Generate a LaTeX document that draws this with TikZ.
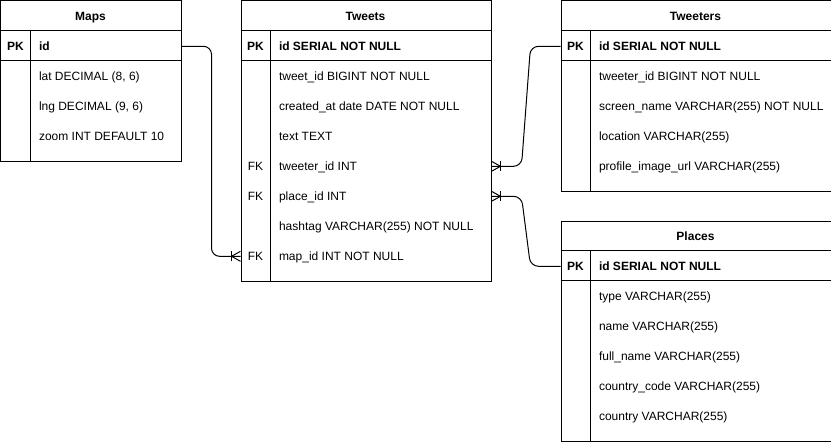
\documentclass[tikz,border=0pt]{standalone}
\usepackage{fontspec}
\setmainfont{Liberation Sans}
\usetikzlibrary{calc, positioning}

\tikzset{
	table/.style={draw, anchor=north west, inner sep=0pt},
	txt/.style={inner sep=0pt, text height=8.6pt, text depth=0pt, yshift=-0.8pt},
	bold/.style={txt, font=\fontsize{12}{14}\selectfont\bfseries},
	field/.style={txt, anchor=west},
	link/.style={rounded corners=8pt},
	crowfoot/.pic={\draw (0,-5) -- (9,0) -- (0,5); \draw (9,-5) -- (9,5);}
}

\begin{document}
\begin{tikzpicture}[x=1pt, y=-1pt, line width=1pt, font=\fontsize{12}{14}\selectfont]
			\useasboundingbox (-0.5,-0.5) rectangle (830.5,441);
			% Maps
			\node[table, minimum width=180, minimum height=160] (maps) at (0,0) {};
			\draw (0,30) -- (180,30);
			\draw (0,60) -- (180,60);
			\draw (30,30) -- (30,160);
			\node[bold] (maps-title) at (90,15) {Maps};
			\node[bold] (maps-pk) at (15,45) {PK};
			\node[bold, anchor=west] (maps-id) at (38,45) {id};
			\foreach \t [count=\i] in {{lat DECIMAL (8, 6)}, {lng DECIMAL (9, 6)}, {zoom INT DEFAULT 10}}
				\node[field] (maps-\i) at (38,{45+30*\i}) {\t};
			% Tweets
			\node[table, minimum width=250, minimum height=280] (tweets) at (240,0) {};
			\draw (240,30) -- (490,30);
			\draw (240,60) -- (490,60);
			\draw (270,30) -- (270,280);
			\node[bold] (tweets-title) at (365,15) {Tweets};
			\node[bold] (tweets-pk) at (255,45) {PK};
			\node[bold, anchor=west] (tweets-id) at (278,45) {id SERIAL NOT NULL};
			\foreach \t [count=\i] in {tweet\_id BIGINT NOT NULL, created\_at date DATE NOT NULL, text TEXT, tweeter\_id INT, place\_id INT, hashtag VARCHAR(255) NOT NULL, map\_id INT NOT NULL}
				\node[field] (tweets-\i) at (278,{45+30*\i}) {\t};
			\foreach \i in {4,5,7}
				\node[txt] (tweets-fk\i) at (255,{45+30*\i}) {FK};
			% Tweeters
			\node[table, minimum width=270, minimum height=190] (tweeters) at (560,0) {};
			\draw (560,30) -- (830,30);
			\draw (560,60) -- (830,60);
			\draw (590,30) -- (590,190);
			\node[bold] (tweeters-title) at (695,15) {Tweeters};
			\node[bold] (tweeters-pk) at (575,45) {PK};
			\node[bold, anchor=west] (tweeters-id) at (598,45) {id SERIAL NOT NULL};
			\foreach \t [count=\i] in {tweeter\_id BIGINT NOT NULL, screen\_name VARCHAR(255) NOT NULL, location VARCHAR(255), profile\_image\_url VARCHAR(255)}
				\node[field] (tweeters-\i) at (598,{45+30*\i}) {\t};
			% Places
			\node[table, minimum width=270, minimum height=220] (places) at (560,220) {};
			\draw (560,250) -- (830,250);
			\draw (560,280) -- (830,280);
			\draw (590,250) -- (590,440);
			\node[bold] (places-title) at (695,235) {Places};
			\node[bold] (places-pk) at (575,265) {PK};
			\node[bold, anchor=west] (places-id) at (598,265) {id SERIAL NOT NULL};
			\foreach \t [count=\i] in {type VARCHAR(255), name VARCHAR(255), full\_name VARCHAR(255), country\_code VARCHAR(255), country VARCHAR(255)}
				\node[field] (places-\i) at (598,{265+30*\i}) {\t};
			% relations
			\draw[link] (maps.east |- maps-id) -- ++(30,0) |- (tweets.west |- tweets-7);
			\path (tweets.west |- tweets-7) pic[rotate=180] {crowfoot};
			\draw[link] (tweets.east |- tweets-4) -- ++(30,0) -- ($(tweeters.west |- tweeters-pk)+(-30,0)$) -- (tweeters.west |- tweeters-pk);
			\path (tweets.east |- tweets-4) pic {crowfoot};
			\draw[link] (tweets.east |- tweets-5) -- ++(30,0) -- ($(places.west |- places-pk)+(-30,0)$) -- (places.west |- places-pk);
			\path (tweets.east |- tweets-5) pic {crowfoot};
\end{tikzpicture}
\end{document}
